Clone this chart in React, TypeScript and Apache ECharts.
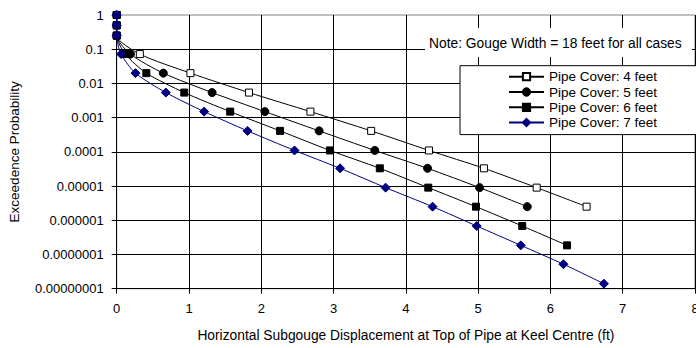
import React, { useEffect, useRef } from "react";
import * as echarts from "echarts";

// Shared exceedence probability levels (y values)
const probLevels = [
  1, 0.5, 0.25, 0.072, 0.02, 0.0054, 0.0015, 0.00041, 0.00011, 0.000033,
  0.000009, 0.0000025, 0.00000068, 0.000000185, 0.000000052, 0.000000014,
];

// Horizontal subgouge displacement (ft) per pipe cover
const cover4X = [0, 0, 0, 0.32, 1.02, 1.83, 2.68, 3.52, 4.32, 5.08, 5.81, 6.5];
const cover5X = [0, 0, 0, 0.19, 0.645, 1.32, 2.05, 2.8, 3.57, 4.3, 5.02, 5.68];
const cover6X = [0, 0, 0, 0.12, 0.41, 0.935, 1.57, 2.26, 2.95, 3.64, 4.31, 4.97, 5.61, 6.23];
const cover7X = [0, 0, 0, 0.06, 0.26, 0.68, 1.21, 1.81, 2.46, 3.09, 3.72, 4.37, 4.98, 5.59, 6.18, 6.74];

const seriesNames = [
  "Pipe Cover: 4 feet",
  "Pipe Cover: 5 feet",
  "Pipe Cover: 6 feet",
  "Pipe Cover: 7 feet",
];

const yTickLabels = [
  "1", "0.1", "0.01", "0.001", "0.0001", "0.00001", "0.000001", "0.0000001", "0.00000001",
];

const xTickLabels = ["0", "1", "2", "3", "4", "5", "6", "7", "8"];

const noteText = "Note: Gouge Width = 18 feet for all cases";
const xTitle = "Horizontal Subgouge Displacement at Top of Pipe at Keel Centre (ft)";
const yTitle = "Exceedence Probability";

const FONT = "Liberation Sans, Arial, sans-serif";

function pairs(xs: number[]) {
  return xs.map((x, i) => [x, probLevels[i]]);
}

export default function App() {
  const ref = useRef<HTMLDivElement>(null);
  useEffect(() => {
    document.body.style.margin = "0";
    if (!ref.current) return;
    const chart = echarts.init(ref.current, undefined, { renderer: "svg" });
    const mk = (
      name: string,
      xs: number[],
      color: string,
      symbol: string,
      size: number,
      fill: string
    ) => ({
      name,
      type: "line",
      data: pairs(xs),
      smooth: 0.25,
      symbol,
      symbolSize: size,
      showAllSymbol: true,
      lineStyle: { color, width: 1 },
      itemStyle: { color: fill, borderColor: color, borderWidth: 1 },
      emphasis: { disabled: true },
    });
    chart.setOption({
      animation: false,
      backgroundColor: "#fff",
      grid: {
        left: 116.7,
        top: 15,
        right: 1,
        bottom: 59.3,
        outerBoundsMode: "none",
        containLabel: false,
        show: true,
        borderColor: "#808080",
        borderWidth: 1,
        backgroundColor: "transparent",
      },
      legend: {
        orient: "vertical",
        left: 460,
        top: 65.7,
        padding: [4, 70, 5, 48],
        itemGap: 1.3,
        itemWidth: 35,
        itemHeight: 9,
        backgroundColor: "#fff",
        borderColor: "#000",
        borderWidth: 1,
        borderRadius: 0,
        textStyle: {
          fontFamily: FONT,
          fontSize: 13.5,
          lineHeight: 13.5,
          color: "#000",
          padding: [0, 0, 0, 0],
        },
        data: seriesNames,
      },
      xAxis: {
        type: "value",
        min: 0,
        max: 8,
        interval: 1,
        name: xTitle,
        nameLocation: "middle",
        nameGap: 40,
        nameTextStyle: { fontFamily: FONT, fontSize: 13.8, color: "#000" },
        axisLine: { show: true, lineStyle: { color: "#000", width: 1 } },
        axisTick: { show: true, length: 5, lineStyle: { color: "#000" } },
        axisLabel: {
          fontFamily: FONT,
          fontSize: 13,
          color: "#000",
          margin: 13,
          formatter: (v: number) => xTickLabels[Math.round(v)] ?? String(v),
        },
        splitLine: { show: true, lineStyle: { color: "#000", width: 1 } },
      },
      yAxis: {
        type: "log",
        logBase: 10,
        min: 1e-8,
        max: 1,
        name: yTitle,
        nameLocation: "middle",
        nameGap: 95,
        nameRotate: 90,
        nameTextStyle: { fontFamily: FONT, fontSize: 13.5, color: "#000" },
        axisLine: { show: true, lineStyle: { color: "#000", width: 1 } },
        axisTick: { show: true, length: 5, lineStyle: { color: "#000" } },
        axisLabel: {
          fontFamily: FONT,
          fontSize: 13,
          color: "#000",
          margin: 13,
          formatter: (v: number) => {
            const i = Math.round(-Math.log10(v));
            return yTickLabels[i] ?? String(v);
          },
        },
        splitLine: { show: true, showMaxLine: false, lineStyle: { color: "#000", width: 1 } },
      },
      graphic: [
        {
          type: "rect",
          left: 425,
          top: 28,
          shape: { width: 267, height: 29 },
          style: { fill: "#fff" },
          z: 10,
        },
        {
          type: "text",
          left: 429,
          top: 36,
          style: {
            text: noteText,
            fontFamily: FONT,
            fontSize: 13.8,
            fill: "#000",
          },
          z: 11,
        },
      ],
      series: [
        mk(seriesNames[0], cover4X, "#000", "rect", 7, "#fff"),
        mk(seriesNames[1], cover5X, "#000", "circle", 8, "#000"),
        mk(seriesNames[2], cover6X, "#000", "rect", 7, "#000"),
        mk(seriesNames[3], cover7X, "#000080", "diamond", 9, "#000080"),
      ],
    });
    return () => chart.dispose();
  }, []);
  return (
    <div
      ref={ref}
      style={{ position: "absolute", left: 0, top: 0, width: 696, height: 348 }}
    />
  );
}
